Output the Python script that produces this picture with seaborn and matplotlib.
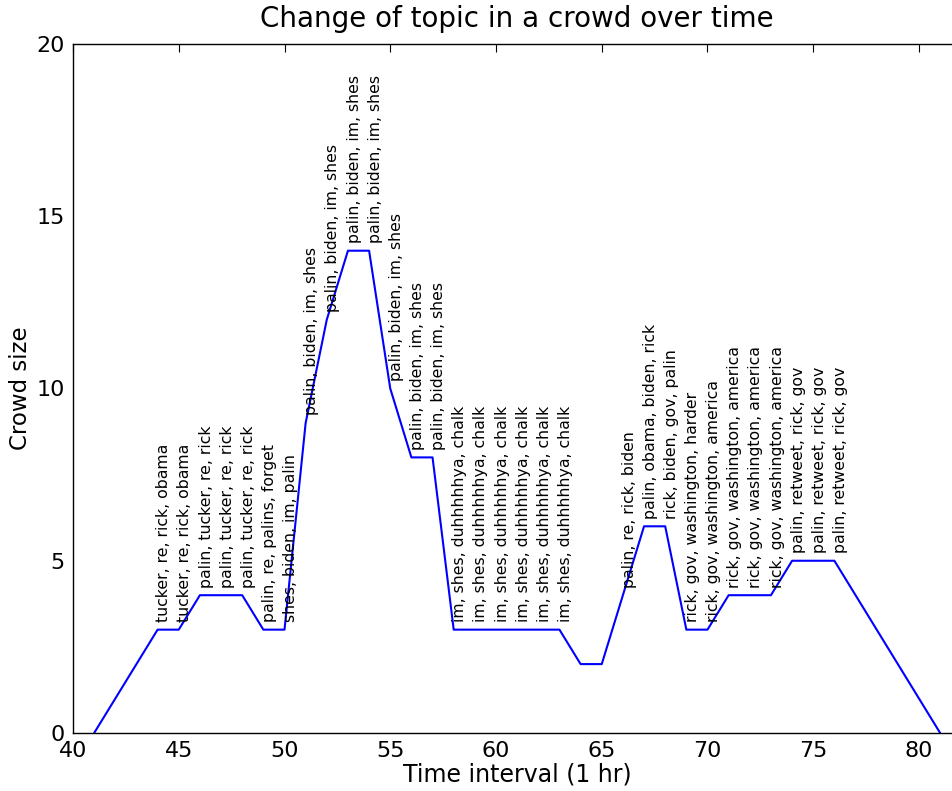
import matplotlib
matplotlib.use("Agg")
import matplotlib.pyplot as plt
import seaborn as sns
import pandas as pd

# Crowd size per hourly interval with the top words of each interval
intervals = [41, 44, 45, 46, 47, 48, 49, 50, 51, 52, 53, 54, 55, 56, 57, 58, 59, 60,
             61, 62, 63, 64, 65, 66, 67, 68, 69, 70, 71, 72, 73, 74, 75, 76, 81]
crowd_sizes = [0, 3, 3, 4, 4, 4, 3, 3, 9, 12, 14, 14, 10, 8, 8, 3, 3, 3,
               3, 3, 3, 2, 2, 4, 6, 6, 3, 3, 4, 4, 4, 5, 5, 5, 0]
topics = [
    "",
    "tucker, re, rick, obama",
    "tucker, re, rick, obama",
    "palin, tucker, re, rick",
    "palin, tucker, re, rick",
    "palin, tucker, re, rick",
    "palin, re, palins, forget",
    "shes, biden, im, palin",
    "palin, biden, im, shes",
    "palin, biden, im, shes",
    "palin, biden, im, shes",
    "palin, biden, im, shes",
    "palin, biden, im, shes",
    "palin, biden, im, shes",
    "palin, biden, im, shes",
    "im, shes, duhhhhhya, chalk",
    "im, shes, duhhhhhya, chalk",
    "im, shes, duhhhhhya, chalk",
    "im, shes, duhhhhhya, chalk",
    "im, shes, duhhhhhya, chalk",
    "im, shes, duhhhhhya, chalk",
    "",
    "",
    "palin, re, rick, biden",
    "palin, obama, biden, rick",
    "rick, biden, gov, palin",
    "rick, gov, washington, harder",
    "rick, gov, washington, america",
    "rick, gov, washington, america",
    "rick, gov, washington, america",
    "rick, gov, washington, america",
    "palin, retweet, rick, gov",
    "palin, retweet, rick, gov",
    "palin, retweet, rick, gov",
    "",
]

df = pd.DataFrame({"interval": intervals, "size": crowd_sizes, "topic": topics})

sns.set_style("white")
plt.rcParams["font.family"] = ["DejaVu Sans"]
plt.rcParams["text.color"] = "black"
plt.rcParams["axes.labelcolor"] = "black"

fig = plt.figure(figsize=(9.53, 7.91), dpi=100)
# axes run past the right edge of the figure
ax = fig.add_axes([73 / 953, 58 / 791, 888 / 953, 689 / 791])

sns.lineplot(data=df, x="interval", y="size", color="blue", linewidth=1.5,
             ax=ax, estimator=None, sort=False)

for x, y, t in zip(df["interval"], df["size"], df["topic"]):
    if t:
        ax.annotate(t, xy=(x, y), xytext=(-1, 5.5), textcoords="offset points",
                    rotation=90, ha="left", va="bottom", fontsize=11.3,
                    color="black")

ax.set_xlim(40, 40 + 888 / 21.15)
ax.set_ylim(0, 20)
ax.set_xticks(range(40, 85, 5))
ax.set_yticks(range(0, 21, 5))
ax.tick_params(direction="in", top=True, right=True, length=6, width=0.8,
               labelsize=16, pad=6, colors="black")
for s in ax.spines.values():
    s.set_color("black")
    s.set_linewidth(1.0)

ax.set_xlabel("Time interval (1 hr)", fontsize=17, labelpad=1)
ax.set_ylabel("Crowd size", fontsize=16.5, labelpad=3)
ax.set_title("Change of topic in a crowd over time", fontsize=20, pad=12)

fig.savefig("out.png", dpi=100, facecolor="white")
